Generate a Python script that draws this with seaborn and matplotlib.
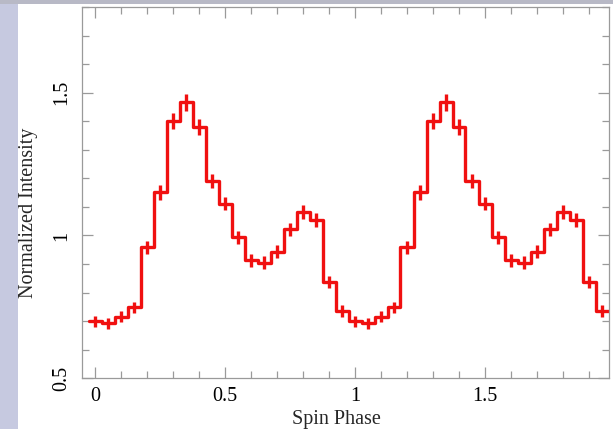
import numpy as np
import pandas as pd
import matplotlib
matplotlib.use("Agg")
import matplotlib.pyplot as plt
import seaborn as sns
from matplotlib.patches import Rectangle
from matplotlib.ticker import MultipleLocator

# ---- data (one folded cycle, 20 phase bins, shown twice) ----
bin_width = 0.05
cycle_phase = [0.00, 0.05, 0.10, 0.15, 0.20, 0.25, 0.30, 0.35, 0.40, 0.45,
               0.50, 0.55, 0.60, 0.65, 0.70, 0.75, 0.80, 0.85, 0.90, 0.95]
cycle_intensity = [0.700, 0.692, 0.715, 0.748, 0.958, 1.151, 1.402, 1.466, 1.381, 1.191,
                   1.112, 0.993, 0.913, 0.905, 0.943, 1.022, 1.083, 1.054, 0.837, 0.736]
cycle_error = [0.019, 0.019, 0.019, 0.020, 0.022, 0.025, 0.028, 0.029, 0.028, 0.025,
               0.024, 0.023, 0.022, 0.022, 0.022, 0.023, 0.024, 0.023, 0.021, 0.020]
n_cycles = 2

x_ticks = [0, 0.5, 1, 1.5]
x_tick_labels = ["0", "0.5", "1", "1.5"]
y_ticks = [0.5, 1.0, 1.5]
y_tick_labels = ["0.5", "1", "1.5"]

phase = np.concatenate([np.array(cycle_phase) + k for k in range(n_cycles)])
intensity = np.tile(cycle_intensity, n_cycles)
error = np.tile(cycle_error, n_cycles)

# step outline: extend half a bin at both ends
step_x = np.concatenate([[phase[0] - bin_width / 2], phase, [phase[-1] + bin_width / 2]])
step_y = np.concatenate([[intensity[0]], intensity, [intensity[-1]]])
df = pd.DataFrame({"phase": step_x, "intensity": step_y})

sns.set_theme(style="ticks")
plt.rcParams["font.family"] = ["Liberation Serif", "DejaVu Serif"]

fig = plt.figure(figsize=(6.13, 4.29), dpi=100)
fig.patch.set_facecolor("white")
# background strips seen at left/top edges of the reference
fig.patches.append(Rectangle((0, 0), 18 / 613, 1, transform=fig.transFigure,
                             facecolor="#c6c9e0", edgecolor="none", zorder=-10))
fig.patches.append(Rectangle((0, 1 - 4 / 429), 1, 4 / 429, transform=fig.transFigure,
                             facecolor="#b8b9c6", edgecolor="none", zorder=-10))

ax = fig.add_axes([82 / 613, 1 - 378.3 / 429, (608.5 - 82) / 613, (378.3 - 7) / 429])
ax.set_facecolor("white")

red = "#f01010"
sns.lineplot(data=df, x="phase", y="intensity", ax=ax, color=red, lw=2.4,
             drawstyle="steps-mid", estimator=None, sort=False)
ax.errorbar(phase, intensity, yerr=error, fmt="none", ecolor=red, elinewidth=2.4, capsize=0)

ax.set_xlim(-0.05, 1.975)
ax.set_ylim(0.5, 1.8)
ax.set_xticks(x_ticks)
ax.set_xticklabels(x_tick_labels)
ax.set_yticks(y_ticks)
ax.set_yticklabels(y_tick_labels, rotation=90, va="center")
ax.xaxis.set_minor_locator(MultipleLocator(0.1))
ax.yaxis.set_minor_locator(MultipleLocator(0.1))

spine_color = "#9a9a9a"
for s in ax.spines.values():
    s.set_visible(True)
    s.set_color(spine_color)
    s.set_linewidth(0.9)
ax.tick_params(which="both", direction="in", top=True, right=True, color=spine_color,
               width=0.9, labelsize=14.5, labelcolor="black")
ax.tick_params(which="major", length=8)
ax.tick_params(which="minor", length=5)
ax.tick_params(axis="x", pad=6)
ax.tick_params(axis="y", pad=8)

ax.set_xlabel("Spin Phase", fontsize=14.5, labelpad=3)
ax.set_ylabel("Normalized Intensity", fontsize=14.5, labelpad=10)
ax.xaxis.set_label_coords(0.484, -0.085)
ax.yaxis.label.set_y(0.445)

fig.savefig("out.png", dpi=100, facecolor=fig.get_facecolor())
